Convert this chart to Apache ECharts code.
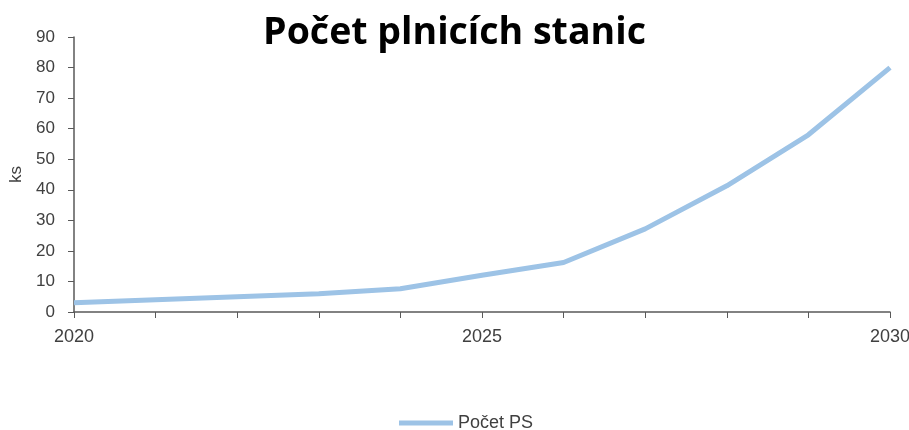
<!DOCTYPE html>
<html>
<head>
<meta charset="utf-8">
<script src="https://cdn.jsdelivr.net/npm/echarts@6/dist/echarts.min.js"></script>
<style>
html, body { margin: 0; padding: 0; background: #fff; }
#chart { width: 909px; height: 430px; }
</style>
</head>
<body>
<div id="chart"></div>
<script>
var years = ['2020', '2021', '2022', '2023', '2024', '2025', '2026', '2027', '2028', '2029', '2030'];
var stations = [3, 4, 5, 6, 7.6, 12, 16.2, 27.2, 41.3, 58, 80];
var yTicks = [0, 10, 20, 30, 40, 50, 60, 70, 80, 90];

var chart = echarts.init(document.getElementById('chart'));
var option = {
	backgroundColor: '#fff',
	animation: false,
	title: {
		text: 'Počet plnicích stanic',
		left: 'center',
		top: 9,
		textStyle: {
			fontFamily: 'Open Sans',
			fontWeight: 'bold',
			fontSize: 37.5,
			color: '#000'
		}
	},
	legend: {
		bottom: -7,
		left: 394,
		itemWidth: 54,
		itemHeight: 5,
		itemGap: 6,
		icon: 'rect',
		textStyle: { fontFamily: 'Liberation Sans', fontSize: 18, color: '#404040' },
		data: ['Počet PS']
	},
	grid: {
		left: 74,
		right: 19,
		top: 37,
		bottom: 118,
		outerBoundsMode: 'none'
	},
	xAxis: {
		type: 'category',
		data: years,
		boundaryGap: false,
		axisLine: { lineStyle: { color: '#595959', width: 1.5 } },
		axisTick: { show: true, interval: 0, length: 6, lineStyle: { color: '#595959' } },
		axisLabel: {
			interval: 4,
			margin: 16,
			fontFamily: 'Liberation Sans',
			fontSize: 18,
			color: '#404040'
		}
	},
	yAxis: {
		type: 'value',
		min: yTicks[0],
		max: yTicks[yTicks.length - 1],
		interval: 10,
		name: 'ks',
		nameLocation: 'middle',
		nameGap: 49,
		nameTextStyle: { fontFamily: 'Liberation Sans', fontSize: 17, color: '#404040' },
		axisLine: { show: true, lineStyle: { color: '#595959', width: 1.5 } },
		axisTick: { show: true, length: 6, lineStyle: { color: '#595959' } },
		axisLabel: {
			margin: 19,
			fontFamily: 'Liberation Sans',
			fontSize: 17,
			color: '#404040'
		},
		splitLine: { show: false }
	},
	series: [{
		name: 'Počet PS',
		type: 'line',
		data: stations,
		symbol: 'none',
		lineStyle: { color: '#9dc3e6', width: 5 },
		itemStyle: { color: '#9dc3e6' }
	}]
};
chart.setOption(option);
</script>
</body>
</html>
